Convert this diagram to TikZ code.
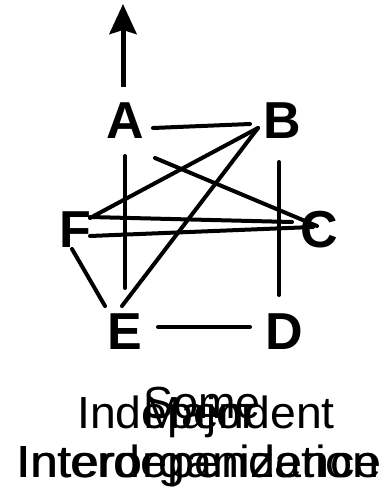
\documentclass[tikz,border=0pt]{standalone}
\usepackage{fontspec}
\usepackage{graphicx}
\setmainfont{Liberation Sans}
\usetikzlibrary{arrows.meta}
\begin{document}
\begin{tikzpicture}[x=1pt,y=-1pt,
  vert/.style={inner sep=0pt, font=\fontsize{52}{52}\selectfont\bfseries},
  edge/.style={line width=4pt, line cap=round},
  lbl/.style={inner sep=0pt, anchor=base, font=\fontsize{45}{45}\selectfont}]
\useasboundingbox (0,0) rectangle (385,497);
\node[vert] (A) at (125,121) {A};
\node[vert] (B) at (282,121) {B};
\node[vert] (C) at (319,230) {C};
\node[vert] (D) at (284,332) {D};
\node[vert] (E) at (125,332) {E};
\node[vert] (F) at (75,230) {F};
\coordinate (top) at (123,4);
% arrow up from A
\draw[line width=5pt, -{Stealth[length=30pt,width=27pt,inset=4pt]}]
  ([shift={(-2,-34)}]A.center) -- (top);
% edges
\draw[edge] ([shift={(28,7)}]A.center) -- ([shift={(-32,3)}]B.center);
\draw[edge] ([shift={(0,35)}]A.center) -- ([shift={(0,-44)}]E.center);
\draw[edge] ([shift={(30,37)}]A.center) -- ([shift={(-2,-4)}]C.center);
\draw[edge] ([shift={(-24,7)}]B.center) -- ([shift={(15,-12)}]F.center);
\draw[edge] ([shift={(-24,7)}]B.center) -- ([shift={(-3,-26)}]E.center);
\draw[edge] ([shift={(15,-13)}]F.center) -- ([shift={(-27,-8)}]C.center);
\draw[edge] ([shift={(15,6)}]F.center) -- ([shift={(-6,-3)}]C.center);
\draw[edge] ([shift={(-3,41)}]B.center) -- ([shift={(-5,-37)}]D.center);
\draw[edge] ([shift={(-3,19)}]F.center) -- ([shift={(-20,-26)}]E.center);
\draw[edge] ([shift={(33,-5)}]E.center) -- ([shift={(-34,-5)}]D.center);
% bottom labels (overlaid)
\node[lbl] (t1) at (206,428) {\scalebox{1.03}[1]{Independent}};
\node[lbl] (t2) at (202,418) {Some};
\node[lbl] (t3) at (200,428) {Major};
\node[lbl] (t4) at (199,477) {\scalebox{1.08}[1]{Interdependence}};
\node[lbl] (t5) at (199,477) {\scalebox{1.08}[1]{Interorganization}};
\end{tikzpicture}
\end{document}
